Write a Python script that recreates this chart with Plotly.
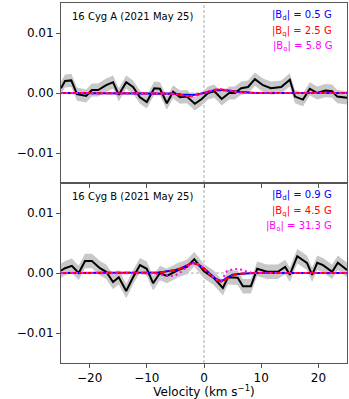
import plotly.graph_objects as go
from plotly.subplots import make_subplots

# --- 16 Cyg A: LSD Stokes V (observed) ---
vel_a = [-25.0, -24.3, -23.2, -22.2, -20.6, -19.6, -18.5, -17.1, -15.9, -14.9,
         -13.6, -12.4, -11.2, -10.0, -8.7, -7.7, -6.5, -5.4, -4.2, -3.0,
         -1.6, -0.4, 0.7, 1.8, 3.1, 4.4, 5.4, 6.5, 7.7, 8.9,
         10.3, 11.7, 13.5, 15.0, 15.9, 17.3, 18.5, 19.8, 21.2, 22.4,
         23.3, 25.0]
stokes_a = [0.0008, 0.0020, 0.0021, -0.0002, -0.0005, 0.0005, 0.0005, 0.0013, 0.0018, -0.0003,
            0.0018, 0.0010, -0.0007, -0.0015, 0.0008, 0.0007, -0.0017, 0.0002, -0.0007, -0.0006,
            -0.0018, -0.0010, 0.0000, 0.0003, -0.0010, 0.0000, 0.0000, 0.0008, 0.0010, 0.0023,
            0.0013, 0.0008, 0.0010, 0.0022, -0.0006, -0.0011, 0.0007, 0.0000, 0.0004, 0.0003,
            -0.0006, -0.0008]
err_a = 0.0011

# --- 16 Cyg B ---
vel_b = [-25.0, -24.3, -23.1, -21.9, -20.8, -19.6, -18.2, -17.1, -15.9, -14.9,
         -13.6, -12.4, -11.2, -10.0, -8.9, -7.7, -6.5, -4.5, -3.0, -1.7,
         0.0, 1.7, 3.3, 4.2, 5.9, 6.8, 8.2, 9.3, 11.0, 12.9,
         14.2, 15.0, 16.3, 18.0, 18.9, 19.8, 20.8, 22.4, 23.4, 25.0]
stokes_b = [0.0004, 0.0008, 0.0012, 0.0000, 0.0020, 0.0020, 0.0008, 0.0002, -0.0015, -0.0007,
            -0.0030, -0.0007, 0.0013, 0.0007, -0.0017, 0.0000, -0.0005, 0.0005, 0.0010, 0.0023,
            0.0003, -0.0008, -0.0025, -0.0007, -0.0008, -0.0022, -0.0022, 0.0007, 0.0002, 0.0002,
            0.0010, -0.0003, 0.0028, 0.0017, -0.0003, 0.0017, 0.0013, 0.0002, 0.0017, 0.0005]
err_b = 0.0012

# --- model fits (dipole / quadrupole / octupole) ---
model_vel = [-25, -10, -9, -8, -7, -6, -5, -4, -3, -2, -1, 0, 1, 2, 3, 4, 5, 6, 7, 8, 9, 10, 25]

dip_a = [0, 0, 0, 0, -0.00003, -0.00006, -0.00012, -0.00025, -0.00035, -0.00035, -0.0002, 0.00005,
         0.0003, 0.00045, 0.0005, 0.00045, 0.00035, 0.0002, 0.0001, 0.00004, 0, 0, 0]
quad_a = [0, 0, 0, 0, -0.00002, -0.00008, -0.00018, -0.00035, -0.0005, -0.0005, -0.0003, 0.0,
          0.0003, 0.00055, 0.0006, 0.0005, 0.0003, 0.00015, 0.00005, 0, 0, 0, 0]
oct_a = [0, 0, 0, 0, -0.00002, -0.00008, -0.0002, -0.00038, -0.00052, -0.00055, -0.0003, 0.0,
         0.0003, 0.00058, 0.00065, 0.0005, 0.0003, 0.00012, 0.00003, 0, 0, 0, 0]

dip_b = [0, 0, 0.00002, 0.0001, 0.0002, 0.00035, 0.0005, 0.0008, 0.0012, 0.0017, 0.0014, 0.0008,
         -0.0001, -0.0009, -0.0014, -0.0008, -0.0003, -0.00015, -0.00006, -0.00002, 0, 0, 0]
quad_b = [0, 0, 0.00001, 0.00005, 0.00015, 0.0003, 0.00045, 0.0008, 0.0013, 0.0017, 0.0014, 0.0007,
          -0.0002, -0.001, -0.0015, -0.0009, -0.0004, -0.00015, -0.00005, 0, 0, 0, 0]
oct_b = [0, 0, -0.00005, -0.0002, -0.0004, -0.0005, -0.0004, 0.0002, 0.001, 0.0016, 0.0015, 0.0008,
         -0.0002, -0.001, -0.0013, 0.0003, 0.0006, 0.0007, 0.0004, 0.0001, 0, 0, 0]

labels_a = ["16 Cyg A (2021 May 25)", ["0.5", "2.5", "5.8"]]
labels_b = ["16 Cyg B (2021 May 25)", ["0.9", "4.5", "31.3"]]

model_names = ["d", "q", "o"]
model_colors = ["#0000ff", "#ff0000", "#ff00ff"]
model_dash = ["solid", "6px,3px", "2px,3px"]

fig = make_subplots(rows=2, cols=1, shared_xaxes=True, vertical_spacing=0)

panels = [
    (1, vel_a, stokes_a, err_a, [dip_a, quad_a, oct_a], labels_a),
    (2, vel_b, stokes_b, err_b, [dip_b, quad_b, oct_b], labels_b),
]

for row, vel, stokes, err, models, labels in panels:
    upper = [s + err for s in stokes]
    lower = [s - err for s in stokes]
    fig.add_trace(go.Scatter(x=vel + vel[::-1], y=upper + lower[::-1], fill="toself",
                             fillcolor="#c8c8c8", line=dict(width=0), mode="lines",
                             hoverinfo="skip", showlegend=False), row=row, col=1)
    fig.add_trace(go.Scatter(x=vel, y=stokes, mode="lines", line=dict(color="black", width=2),
                             showlegend=False), row=row, col=1)
    for m, c, d in zip(models, model_colors, model_dash):
        fig.add_trace(go.Scatter(x=model_vel, y=m, mode="lines",
                                 line=dict(color=c, width=2, dash=d), showlegend=False),
                      row=row, col=1)

    yref = "y domain" if row == 1 else "y2 domain"
    xref = "x domain" if row == 1 else "x2 domain"
    fig.add_annotation(x=0.031, y=0.925, xref=xref, yref=yref, text=labels[0], showarrow=False,
                       xanchor="left", yanchor="middle", font=dict(size=10, color="black"))
    for i, (name, val, col) in enumerate(zip(model_names, labels[1], model_colors)):
        fig.add_annotation(x=0.953, y=0.928 - i * 0.085, xref=xref, yref=yref,
                           text=f"|B<sub>{name}</sub>| = {val} G", showarrow=False,
                           xanchor="right", yanchor="middle", font=dict(size=10, color=col))
    # zero reference lines
    fig.add_shape(type="line", x0=0, x1=1, xref=xref, y0=0, y1=0, yref=yref.split()[0],
                  line=dict(color="#aaaaaa", width=1, dash="3px,2px"), layer="below")
    fig.add_shape(type="line", x0=0, x1=0, xref=xref.split()[0], y0=0, y1=1, yref=yref,
                  line=dict(color="#aaaaaa", width=1, dash="3px,2px"), layer="below")

axis_style = dict(showgrid=False, zeroline=False, showline=True, mirror=True,
                  linecolor="#555555", linewidth=1, ticks="outside", ticklen=4,
                  tickcolor="#555555", tickfont=dict(size=12, color="black"),
                  automargin=False)

fig.update_xaxes(range=[-25, 25], tickvals=[-20, -10, 0, 10, 20], **axis_style)
fig.update_xaxes(title_text="Velocity (km s<sup>−1</sup>)", title_font=dict(size=12, color="black"),
                 title_standoff=2, row=2, col=1)
fig.update_yaxes(range=[-0.015, 0.015], tickvals=[-0.01, 0, 0.01], tickformat=".2f", **axis_style)

fig.update_layout(width=349, height=399, margin=dict(l=61, r=2, t=3, b=36),
                  plot_bgcolor="white", paper_bgcolor="white",
                  font=dict(family="DejaVu Sans"))

# drop the browser's default body margin so the figure sits at the page origin
fig.write_html("out.html", config={"displayModeBar": False},
               post_script="document.body.style.margin='0';")
